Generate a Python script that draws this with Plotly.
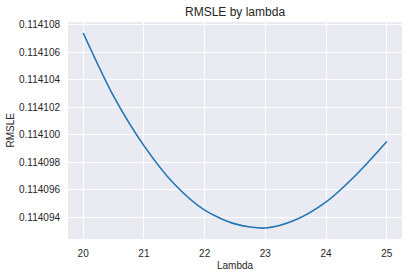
import plotly.graph_objects as go

lambdas = [20.0, 20.5, 21.0, 21.5, 22.0, 22.5, 23.0, 23.5, 24.0, 24.5, 25.0]
rmsle = [0.1141074, 0.1141028, 0.1140992, 0.1140964, 0.1140945, 0.1140935,
         0.1140932, 0.1140938, 0.1140951, 0.1140971, 0.1140995]

x_ticks = [20, 21, 22, 23, 24, 25]
y_ticks = [0.114094, 0.114096, 0.114098, 0.114100, 0.114102, 0.114104, 0.114106, 0.114108]

font_family = "Liberation Sans, Arial, sans-serif"
txt = "#262626"

fig = go.Figure()
fig.add_trace(go.Scatter(
    x=lambdas, y=rmsle, mode="lines",
    line=dict(color="#1f77b4", width=1.6, shape="spline", smoothing=0.8),
    hoverinfo="skip", showlegend=False,
))

fig.update_layout(
    width=416, height=277,
    margin=dict(l=68, r=14, t=22, b=38),
    paper_bgcolor="white",
    plot_bgcolor="#EAEAF2",
    font=dict(family=font_family, size=10, color=txt),
    title=dict(text="RMSLE by lambda", x=0.565, xanchor="center", y=0.957, yanchor="middle",
               font=dict(size=12, color=txt, family=font_family)),
    annotations=[
        dict(text="Lambda", xref="paper", yref="paper", x=0.5, y=0, xanchor="center",
             yanchor="middle", yshift=-26.5, showarrow=False,
             font=dict(size=10, color=txt, family=font_family)),
        dict(text="RMSLE", xref="paper", yref="paper", x=0, y=0.5, xanchor="center",
             yanchor="middle", xshift=-58, textangle=-90, showarrow=False,
             font=dict(size=10, color=txt, family=font_family)),
    ],
)
fig.update_xaxes(
    range=[19.75, 25.25], tickvals=x_ticks, ticktext=[str(v) for v in x_ticks],
    showgrid=True, gridcolor="white", gridwidth=1, zeroline=False, showline=False,
    ticks="outside", ticklen=5, tickcolor="rgba(0,0,0,0)", automargin=False,
)
fig.update_yaxes(
    range=[0.1140924, 0.1141082], tickvals=y_ticks,
    ticktext=["%.6f" % v for v in y_ticks],
    showgrid=True, gridcolor="white", gridwidth=1, zeroline=False, showline=False,
    ticks="outside", ticklen=5, tickcolor="rgba(0,0,0,0)", automargin=False,
)

fig.write_html("out.html")
